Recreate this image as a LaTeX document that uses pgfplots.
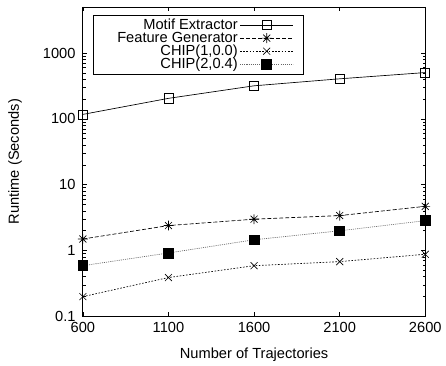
\documentclass[border=0pt]{standalone}
\usepackage{fontspec}
\setmainfont{Liberation Sans}
\usepackage{pgfplots}
\pgfplotsset{compat=1.18}
\pgfdeclareplotmark{gpstar}{%
  \pgfpathmoveto{\pgfqpoint{-\pgfplotmarksize}{0pt}}%
  \pgfpathlineto{\pgfqpoint{\pgfplotmarksize}{0pt}}%
  \pgfpathmoveto{\pgfqpoint{0pt}{-\pgfplotmarksize}}%
  \pgfpathlineto{\pgfqpoint{0pt}{\pgfplotmarksize}}%
  \pgfpathmoveto{\pgfqpoint{-.707\pgfplotmarksize}{-.707\pgfplotmarksize}}%
  \pgfpathlineto{\pgfqpoint{.707\pgfplotmarksize}{.707\pgfplotmarksize}}%
  \pgfpathmoveto{\pgfqpoint{-.707\pgfplotmarksize}{.707\pgfplotmarksize}}%
  \pgfpathlineto{\pgfqpoint{.707\pgfplotmarksize}{-.707\pgfplotmarksize}}%
  \pgfusepathqstroke}
\newcommand{\legtxt}[1]{\makebox[106pt][r]{#1}}
\begin{document}
\begin{tikzpicture}[font=\fontsize{11}{13}\selectfont]
\begin{axis}[
  scale only axis, width=257.25pt, height=232.5pt,
  ymode=log, xmin=600, xmax=2600, ymin=0.1, ymax=5000,
  xtick={600,1100,1600,2100,2600},
  ytick={0.1,1,10,100,1000},
  yticklabels={0.1,1,10,100,1000},
  /pgf/number format/assume math mode=true,
  /pgf/number format/1000 sep={},
  tick align=inside, tick pos=both,
  major tick length=3pt, minor tick length=2pt,
  axis line style={line width=0.7pt},
  every tick/.style={black, line width=0.5pt},
  yticklabel style={xshift=-2pt},
  xticklabel style={yshift=-1pt},
  xlabel={Number of Trajectories},
  ylabel={Runtime (Seconds)},
  xlabel style={at={(axis description cs:0.5,-0.123)}, anchor=center},
  ylabel style={at={(axis description cs:-0.198,0.5)}, anchor=center},
  legend style={at={(0.644,0.974)}, anchor=north east, draw=black, line width=0.6pt,
    inner sep=1pt, row sep=-2.5pt, nodes={inner sep=1.5pt}},
  legend cell align=right, legend plot pos=right,
  legend image code/.code={\draw[mark repeat=2,mark phase=2,#1] plot coordinates {(0pt,0pt) (20pt,0pt) (40pt,0pt)}; \path (46pt,0pt);},
  after end axis/.code={\path (axis description cs:-0.242,-0.1516) rectangle (axis description cs:1.0583,1.0226);},
]
\addplot[black, line width=0.5pt, mark=square, mark size=3.4pt, mark options={solid, line width=0.5pt}]
  coordinates {(600,117) (1100,205) (1600,318) (2100,406) (2600,505)};
\addlegendentry{\legtxt{Motif Extractor}}
\addplot[black, line width=0.5pt, dash pattern=on 3pt off 1.5pt, mark=gpstar, mark size=3.7pt, mark options={solid, line width=0.5pt}]
  coordinates {(600,1.5) (1100,2.4) (1600,3.0) (2100,3.4) (2600,4.7)};
\addlegendentry{\legtxt{Feature Generator}}
\addplot[black, line width=0.5pt, dash pattern=on 1.2pt off 1.2pt, mark=x, mark size=3.7pt, mark options={solid, line width=0.5pt}]
  coordinates {(600,0.2) (1100,0.39) (1600,0.59) (2100,0.68) (2600,0.88)};
\addlegendentry{\legtxt{CHIP(1,0.0)}}
\addplot[black!60, line width=0.5pt, dash pattern=on 0.8pt off 0.8pt, mark=square*, mark size=3.7pt, mark options={solid, fill=black, draw=black}]
  coordinates {(600,0.59) (1100,0.92) (1600,1.46) (2100,2.0) (2600,2.85)};
\addlegendentry{\legtxt{CHIP(2,0.4)}}
\end{axis}
\end{tikzpicture}
\end{document}
